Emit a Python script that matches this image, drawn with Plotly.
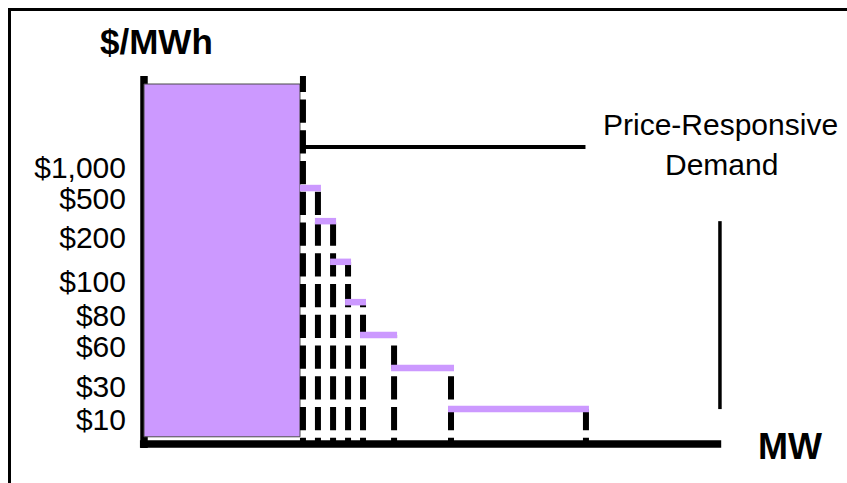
import plotly.graph_objects as go

# ---- data -------------------------------------------------------------
# Price axis is a schematic ladder: each label sits on a "price level".
price_labels = ["$10", "$30", "$60", "$80", "$100", "$200", "$500", "$1,000"]
price_levels = [0.67, 1.59, 2.70, 3.58, 4.51, 5.74, 6.81, 7.69]

# Fixed (price-insensitive) demand block
block_mw = [0.0, 10.0]
block_level = [0.2, 10.0]

# Price-responsive tranches: column positions (MW) and step levels
column_mw = [10.19, 11.15, 12.12, 13.08, 14.04, 16.03, 19.68, 28.33]
step_level = [7.11, 6.19, 5.06, 3.94, 3.03, 2.11, 0.97]

# Axes extents, label pointer and bracket
axis_top_level = 10.22
axis_bottom_level = -0.11
axis_left_mw = -0.26
axis_right_mw = 37.0
pointer_level = 8.25
pointer_end_mw = 28.3
bracket_mw = 36.92

PURPLE = "#CC99FF"
FONT = "Liberation Sans, Arial, sans-serif"

# ---- layout geometry --------------------------------------------------
W, H = 847, 483
ML, MR, MT, MB = 134, 117, 60, 28
PX_PER_MW = 15.6
PX_PER_LEVEL = 36.0
X0_PX, Y0_PX = 144.0, 444.0  # pixel position of MW=0 / level=0

x_range = [(ML - X0_PX) / PX_PER_MW, (W - MR - X0_PX) / PX_PER_MW]
y_range = [(Y0_PX - (H - MB)) / PX_PER_LEVEL, (Y0_PX - MT) / PX_PER_LEVEL]
PW, PH = W - ML - MR, H - MT - MB


def px_to_paper(px, py):
    return (px - ML) / PW, (H - MB - py) / PH


fig = go.Figure()

# vertical (price) axis line
fig.add_trace(go.Scatter(
    x=[0, 0], y=[axis_bottom_level, axis_top_level], mode="lines",
    line=dict(color="black", width=7.5), hoverinfo="skip"))

# fixed demand block
fig.add_trace(go.Scatter(
    x=[block_mw[0], block_mw[1], block_mw[1], block_mw[0], block_mw[0]],
    y=[block_level[0], block_level[0], block_level[1], block_level[1], block_level[0]],
    mode="lines", fill="toself", fillcolor=PURPLE,
    line=dict(color="#4a4a4a", width=1), hoverinfo="skip"))

# pointer from the label to the demand curve
fig.add_trace(go.Scatter(
    x=[column_mw[0], pointer_end_mw], y=[pointer_level, pointer_level],
    mode="lines", line=dict(color="black", width=4), hoverinfo="skip"))

# dashed columns, each rising from the MW axis to its step
col_tops = [axis_top_level] + step_level
for c, top in zip(column_mw, col_tops):
    fig.add_trace(go.Scatter(
        x=[c, c], y=[0, top], mode="lines",
        line=dict(color="black", width=6, dash="6.3px,7.5px,16.95px,0px"),
        hoverinfo="skip"))

# purple steps between neighbouring columns
half_col = 3.0 / PX_PER_MW
sx, sy = [], []
for i, lvl in enumerate(step_level):
    sx += [column_mw[i] - half_col, column_mw[i + 1] + half_col, None]
    sy += [lvl, lvl, None]
fig.add_trace(go.Scatter(x=sx, y=sy, mode="lines",
                         line=dict(color=PURPLE, width=6.5), hoverinfo="skip"))

# bracket beside the responsive range
fig.add_trace(go.Scatter(
    x=[bracket_mw, bracket_mw], y=[step_level[-1], step_level[1]],
    mode="lines", line=dict(color="black", width=3.5), hoverinfo="skip"))

# horizontal (MW) axis line
fig.add_trace(go.Scatter(
    x=[axis_left_mw, axis_right_mw], y=[0, 0], mode="lines",
    line=dict(color="black", width=7.5), hoverinfo="skip"))

# ---- text -------------------------------------------------------------
def label(text, px, py, size, bold=False):
    ax, ay = px_to_paper(px, py)
    fig.add_annotation(
        x=ax, y=ay, xref="paper", yref="paper", text=f"<b>{text}</b>" if bold else text,
        showarrow=False, xanchor="center", yanchor="middle",
        font=dict(family=FONT, size=size, color="black"))


label("$/MWh", 156, 42, 35, bold=True)
label("MW", 789.5, 446, 36, bold=True)
label("Price-Responsive", 720, 124, 30)
label("Demand", 721, 164, 30)

# outer frame
fx, fy = px_to_paper(9.5, 9.5)
fig.add_shape(type="rect", xref="paper", yref="paper",
              x0=fx, y0=-0.5, x1=1.5, y1=fy,
              line=dict(color="black", width=3), fillcolor="rgba(0,0,0,0)")

fig.update_layout(
    width=W, height=H, margin=dict(l=ML, r=MR, t=MT, b=MB),
    paper_bgcolor="white", plot_bgcolor="white", showlegend=False,
    xaxis=dict(range=x_range, visible=False, fixedrange=True),
    yaxis=dict(range=y_range, tickvals=price_levels, ticktext=price_labels,
               showgrid=False, zeroline=False, showline=False,
               ticks="outside", ticklen=1, tickcolor="rgba(0,0,0,0)",
               tickfont=dict(family=FONT, size=30, color="black"),
               fixedrange=True),
)

fig.write_html("out.html")
